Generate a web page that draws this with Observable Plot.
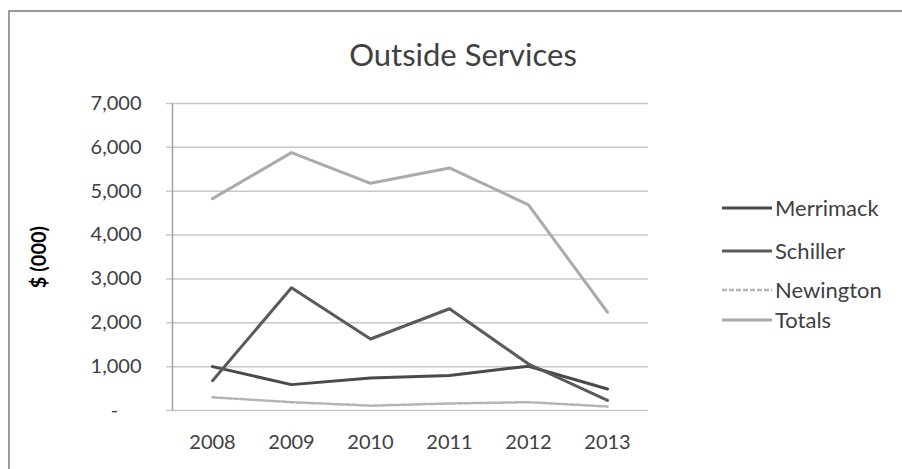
<!DOCTYPE html>
<html>
<head>
<meta charset="utf-8">
<script src="https://cdn.jsdelivr.net/npm/d3@7"></script>
<script src="https://cdn.jsdelivr.net/npm/@observablehq/plot@0.6"></script>
<style>
  html, body { margin: 0; padding: 0; background: #fff; }
  #chart { position: relative; width: 902px; height: 469px; overflow: hidden; font-family: Lato, "Open Sans", sans-serif; color: #404040; }
  #frame { position: absolute; left: 8px; top: 10px; width: 900px; height: 470px; border-left: 2px solid #9a9a9a; border-top: 2px solid #9a9a9a; box-sizing: border-box; }
  #title { position: absolute; left: 0; width: 926px; top: 35px; text-align: center; font-size: 31px; color: #404040; }
  #legend { position: absolute; left: 722px; top: 0; }
  .item { position: absolute; display: flex; align-items: center; white-space: nowrap; font-size: 22px; color: #404040; }
  .item svg { margin-right: 3px; }
  #chart svg.plot { position: absolute; left: 0; top: 0; }
  g[aria-label="y-axis label"] text { font-weight: bold; font-size: 20px; fill: #000; }
</style>
</head>
<body>
<div id="chart">
  <div id="frame"></div>
  <div id="title">Outside Services</div>
  <div id="legend"></div>
</div>
<script>
// Outside Services spend, $ thousands, by plant and year
const years = ["2008", "2009", "2010", "2011", "2012", "2013"];
const merrimack = [1000, 590, 740, 800, 1010, 490];
const schiller = [680, 2800, 1630, 2320, 1060, 230];
const newington = [300, 190, 110, 160, 190, 90];
const totals = [4830, 5880, 5180, 5530, 4690, 2240];
const yTicks = [0, 1000, 2000, 3000, 4000, 5000, 6000, 7000];

const seriesNames = ["Merrimack", "Schiller", "Newington", "Totals"];
const seriesValues = [merrimack, schiller, newington, totals];
const seriesStyle = {
  Merrimack: {stroke: "#4a4a4a", width: 3, dash: null},
  Schiller: {stroke: "#5a5a5a", width: 3, dash: null},
  Newington: {stroke: "#b4b4b4", width: 2.5, dash: "5,2"},
  Totals: {stroke: "#ababab", width: 3, dash: null}
};

const rows = seriesNames.flatMap((name, i) =>
  years.map((year, j) => ({series: name, year, value: seriesValues[i][j]}))
);

const fmt = d3.format(",");
const lineFor = (name) => {
  const s = seriesStyle[name];
  return Plot.line(rows.filter(d => d.series === name), {
    x: "year", y: "value",
    stroke: s.stroke, strokeWidth: s.width,
    strokeDasharray: s.dash, strokeLinejoin: "round"
  });
};

const plot = Plot.plot({
  width: 902,
  height: 469,
  marginLeft: 171,
  marginRight: 254,
  marginTop: 103,
  marginBottom: 59,
  style: {fontFamily: "Lato, 'Open Sans', sans-serif", fontSize: "20px", color: "#404040", background: "transparent"},
  x: {type: "point", domain: years, padding: 0.5},
  y: {domain: [0, 7000]},
  marks: [
    // horizontal gridlines, extended slightly left of the value axis as tick stubs
    Plot.gridY(yTicks, {stroke: "#c8c8c8", strokeOpacity: 1, strokeWidth: 1.5, insetLeft: -5}),
    Plot.ruleX([years[0]], {stroke: "#a0a0a0", strokeWidth: 1.5, dx: -40}),
    Plot.axisY(yTicks, {
      tickSize: 0, tickPadding: 30,
      tickFormat: d => d === 0 ? "-\u2007\u2007" : fmt(d),
      label: "$ (000)", labelAnchor: "center", labelArrow: "none", labelOffset: 140,
      fill: "#404040"
    }),
    Plot.axisX(years, {tickSize: 0, tickPadding: 24, label: null, fill: "#404040"}),
    ...["Totals", "Newington", "Merrimack", "Schiller"].map(lineFor)
  ]
});
plot.classList.add("plot");
document.getElementById("chart").appendChild(plot);

// Legend: a short line sample beside each series name
const legend = document.getElementById("legend");
const legendTop = [208, 251, 290, 320];
seriesNames.forEach((name, i) => {
  const s = seriesStyle[name];
  const item = document.createElement("div");
  item.className = "item";
  item.style.top = (legendTop[i] - 14) + "px";
  item.innerHTML = `<svg width="50" height="8"><line x1="0" x2="50" y1="4" y2="4" stroke="${s.stroke}" stroke-width="${s.width}" ${s.dash ? `stroke-dasharray="${s.dash}"` : ""}/></svg><span>${name}</span>`;
  legend.appendChild(item);
});
</script>
</body>
</html>
